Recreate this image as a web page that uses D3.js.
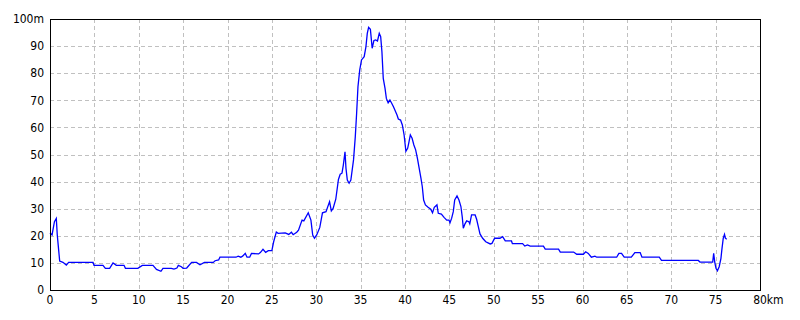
<!DOCTYPE html>
<html>
<head>
<meta charset="utf-8">
<script src="https://cdn.jsdelivr.net/npm/d3@7"></script>
<style>
html,body{margin:0;padding:0;background:#fff;}
svg{display:block;}
text{font-family:"Liberation Sans Narrow","Arial Narrow","DejaVu Sans Condensed",sans-serif;font-size:12px;fill:#000;}
</style>
</head>
<body>
<svg id="chart" width="800" height="320"></svg>
<script>
// distance along route (km)
const distKm = [0,0.23,0.5,0.71,0.82,0.94,1.09,1.46,1.84,2.1,4.85,4.96,5.97,6.24,6.72,7.1,7.47,8.34,8.5,9.9,
10.4,11.6,12.0,12.5,12.73,13.67,13.97,14.3,14.46,14.8,15.0,15.4,15.96,16.5,16.9,17.4,18.4,18.6,19.0,19.15,
20.96,21.2,21.5,21.7,22.0,22.2,22.5,22.7,23.5,23.7,24.0,24.3,24.6,25.0,25.2,25.5,25.7,26.5,26.9,27.2,
27.4,27.8,28.0,28.4,28.6,29.1,29.4,29.6,29.8,30.05,30.4,30.7,31.1,31.5,31.7,31.9,32.2,32.5,32.7,32.9,
33.05,33.24,33.35,33.5,33.7,33.9,34.2,34.4,34.55,34.7,34.9,35.1,35.4,35.6,35.75,35.9,36.1,36.3,36.5,36.7,
36.9,37.1,37.26,37.4,37.55,37.75,37.9,38.1,38.3,38.5,38.7,39.1,39.25,39.5,39.7,39.9,40.1,40.3,40.45,40.6,
40.8,41.0,41.2,41.4,41.6,41.8,41.95,42.1,42.3,42.6,42.9,43.1,43.3,43.6,43.75,44.1,44.4,44.7,44.96,45.07,
45.26,45.44,45.6,45.86,46.08,46.3,46.45,46.57,46.76,46.95,47.2,47.3,47.5,47.9,48.07,48.26,48.45,48.75,49.1,49.6,
49.8,50.1,50.7,51.0,51.3,52.0,52.1,53.25,53.5,53.8,54.1,55.6,55.8,57.3,57.5,59.0,59.35,60.1,60.36,60.65,
61.0,61.4,61.6,63.85,64.1,64.4,64.7,65.5,65.9,66.5,66.7,68.65,68.9,73.05,73.24,74.67,74.78,74.9,75.04,75.2,
75.4,75.6,75.7,75.86,76.0,76.1,76.25];
// elevation (m)
const elevM = [21,20.3,25.2,26.4,20.3,16,10.7,10.2,9.2,10.2,10.2,9.1,9.1,8.0,8.0,10,9.1,9.1,8.0,8.0,
9.1,9.1,7.6,6.9,8.0,8.0,7.7,8.1,9.1,8.6,8.0,8.1,10.2,10.2,9.3,10.2,10.2,10.8,11.1,12.1,
12.1,12.5,12.1,12.5,13.5,12.1,12.1,13.5,13.3,13.8,15.0,13.9,14.5,14.5,17.8,21.4,20.9,21.1,20.5,21.3,
20.4,21.3,22.1,25.8,25.5,28.5,25.8,20.3,19.1,20.3,23.1,28.5,28.9,32.6,29.2,30.1,33.5,40.8,42.7,43.1,
46.1,51.0,44.9,40.6,39.4,40.6,48,56.6,65.2,75,81.2,84.9,86.1,89.8,94.7,96.9,96.2,89.2,92.1,92.3,
91.9,94.7,93.5,87.9,78.1,74.4,70.7,69.1,70.1,68.9,67.6,64.6,63.1,62.7,60.9,57.2,51.2,52.3,54.7,57.2,
56,53.5,51.7,48.6,44.9,41.2,38.1,33.2,31.4,30.5,29.8,28.5,30.5,31.4,28.3,28.0,26.8,25.8,25.8,24.8,
26.5,28.9,33.2,34.7,33.2,30.8,27.0,22.8,24.4,25.5,25.2,24.4,27.7,27.7,26.1,23.4,20.7,19.1,17.8,17,
17.2,19.1,19.1,19.7,18.1,18.1,17.1,17.1,16.2,16.6,16.2,16.2,15.1,15.1,14,14,13.2,13.2,14.1,13.5,
12.1,12.5,12.1,12.1,13.5,13.5,12.1,12.1,13.8,13.8,12.1,12.1,10.9,10.9,10.3,10.3,13.5,10.3,8.0,7.1,
8.6,11.7,14.8,19.1,20.5,19.1,18.7];

const xTicks = [0,5,10,15,20,25,30,35,40,45,50,55,60,65,70,75,80];
const yTicks = [0,10,20,30,40,50,60,70,80,90,100];
const xUnit = "km";
const yUnit = "m";

const svg = d3.select("#chart");
const x = d3.scaleLinear().domain([0,80]).range([50,760]);
const y = d3.scaleLinear().domain([0,100]).range([290,19]);

// grid
const grid = svg.append("g").attr("stroke","#c0c0c0").attr("stroke-dasharray","4,3").attr("stroke-width",1);
grid.selectAll("line.v").data(xTicks.slice(1,-1)).enter().append("line")
  .attr("x1",d=>Math.round(x(d))+0.5).attr("x2",d=>Math.round(x(d))+0.5)
  .attr("y1",y(100)).attr("y2",y(0));
grid.selectAll("line.h").data(yTicks.slice(1,-1)).enter().append("line")
  .attr("y1",d=>Math.round(y(d))+0.5).attr("y2",d=>Math.round(y(d))+0.5)
  .attr("x1",x(0)).attr("x2",x(80));

// line
const pts = distKm.map((d,i)=>[d,elevM[i]]);
svg.append("path").datum(pts)
  .attr("fill","none").attr("stroke","#0000ff").attr("stroke-width",1.3)
  .attr("d",d3.line().x(d=>x(d[0])).y(d=>y(d[1])));

// frame
svg.append("rect").attr("x",x(0)+0.5).attr("y",y(100)+0.5)
  .attr("width",x(80)-x(0)).attr("height",y(0)-y(100))
  .attr("fill","none").attr("stroke","#000").attr("stroke-width",1);

// y labels
svg.selectAll("text.yl").data(yTicks).enter().append("text")
  .attr("x",44).attr("y",d=>y(d)).attr("dy","0.35em").attr("text-anchor","end")
  .text(d=>d===100? d+yUnit : d);

// x labels
const xl = svg.selectAll("text.xl").data(xTicks).enter().append("text")
  .attr("y",304);
xl.each(function(d){
  const t = d3.select(this);
  if(d===80){
    t.attr("x",x(d)).attr("text-anchor","start");
    t.text(d+xUnit);
    // shift so the number itself is centred on the tick
    const tmp = svg.append("text").text(String(d));
    const w = tmp.node().getComputedTextLength(); tmp.remove();
    t.attr("x",x(d)-w/2);
  } else {
    t.attr("x",x(d)).attr("text-anchor","middle").text(d);
  }
});
</script>
</body>
</html>
